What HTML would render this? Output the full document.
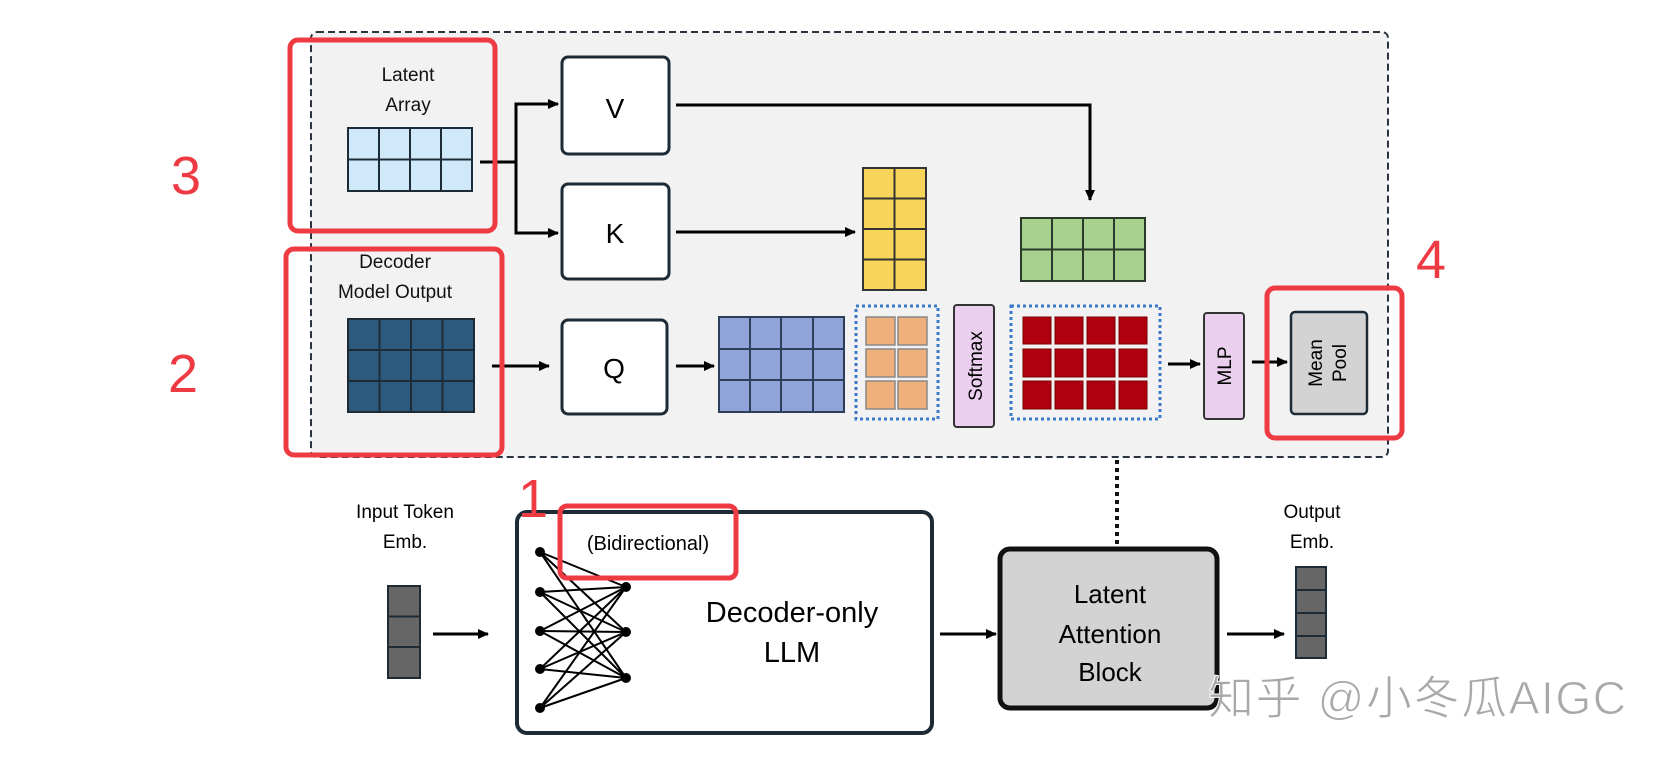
<!DOCTYPE html>
<html><head><meta charset="utf-8"><style>
html,body{margin:0;padding:0;background:#fff;}
svg{display:block;font-family:"Liberation Sans","Noto Sans CJK SC",sans-serif;}
</style></head><body>
<svg width="1668" height="766" viewBox="0 0 1668 766" xmlns="http://www.w3.org/2000/svg">
<defs>
<marker id="ah" markerWidth="12" markerHeight="12" refX="10" refY="6" orient="auto" markerUnits="userSpaceOnUse"><path d="M0,1 L11,6 L0,11 z" fill="#000"/></marker>
</defs>
<rect x="311" y="32" width="1077" height="425" rx="6" fill="#f2f2f2" stroke="#2a3440" stroke-width="2" stroke-dasharray="7,4"/>

<text x="408" y="81" font-size="19" text-anchor="middle" fill="#111">Latent</text>
<text x="408" y="111" font-size="19" text-anchor="middle" fill="#111">Array</text>
<rect x="348" y="128" width="124" height="63" stroke="#1d2b36" stroke-width="2" fill="#cfe9fb"/>
<g stroke="#1d2b36" stroke-width="2">
<line x1="379" y1="128" x2="379" y2="191"/><line x1="410" y1="128" x2="410" y2="191"/><line x1="441" y1="128" x2="441" y2="191"/>
<line x1="348" y1="159.5" x2="472" y2="159.5"/>
</g>
<g stroke="#000" stroke-width="3" fill="none">
<line x1="480" y1="162" x2="516" y2="162"/>
<polyline points="516,233 516,104 558,104" marker-end="url(#ah)"/>
<polyline points="516,162 516,233 558,233" marker-end="url(#ah)"/>
</g>

<g fill="#fff" stroke="#1d2b36" stroke-width="3">
<rect x="562" y="57" width="107" height="97" rx="6"/>
<rect x="562" y="184" width="107" height="95" rx="6"/>
<rect x="562" y="320" width="105" height="94" rx="6"/>
</g>
<text x="615" y="118" font-size="28" text-anchor="middle">V</text>
<text x="615" y="243" font-size="28" text-anchor="middle">K</text>
<text x="614" y="378" font-size="28" text-anchor="middle">Q</text>

<g stroke="#000" stroke-width="3" fill="none">
<polyline points="676,105 1090,105 1090,200" marker-end="url(#ah)"/>
<line x1="676" y1="232" x2="855" y2="232" marker-end="url(#ah)"/>
<line x1="492" y1="366" x2="549" y2="366" marker-end="url(#ah)"/>
<line x1="676" y1="366" x2="714" y2="366" marker-end="url(#ah)"/>
<line x1="1168" y1="364" x2="1200" y2="364" marker-end="url(#ah)"/>
<line x1="1252" y1="362" x2="1287" y2="362" marker-end="url(#ah)"/>
</g>

<text x="395" y="268" font-size="19" text-anchor="middle" fill="#111">Decoder</text>
<text x="395" y="298" font-size="19" text-anchor="middle" fill="#111">Model Output</text>
<rect x="348" y="319" width="126" height="93" fill="#2c5a7e" stroke="#1d2b36" stroke-width="2"/>
<g stroke="#1d2b36" stroke-width="2">
<line x1="379.5" y1="319" x2="379.5" y2="412"/><line x1="411" y1="319" x2="411" y2="412"/><line x1="442.5" y1="319" x2="442.5" y2="412"/>
<line x1="348" y1="350" x2="474" y2="350"/><line x1="348" y1="381" x2="474" y2="381"/>
</g>

<rect x="719" y="317" width="125" height="95" fill="#8fa4d9" stroke="#2c3e5a" stroke-width="2"/>
<g stroke="#2c3e5a" stroke-width="2">
<line x1="750" y1="317" x2="750" y2="412"/><line x1="781" y1="317" x2="781" y2="412"/><line x1="813" y1="317" x2="813" y2="412"/>
<line x1="719" y1="349" x2="844" y2="349"/><line x1="719" y1="380" x2="844" y2="380"/>
</g>

<rect x="863" y="168" width="63" height="122" fill="#f8d55a" stroke="#333" stroke-width="2"/>
<g stroke="#333" stroke-width="2">
<line x1="894.5" y1="168" x2="894.5" y2="290"/>
<line x1="863" y1="198.5" x2="926" y2="198.5"/><line x1="863" y1="229" x2="926" y2="229"/><line x1="863" y1="259.5" x2="926" y2="259.5"/>
</g>

<rect x="1021" y="218" width="124" height="63" fill="#a9d18e" stroke="#2a3a2a" stroke-width="2"/>
<g stroke="#2a3a2a" stroke-width="2">
<line x1="1052" y1="218" x2="1052" y2="281"/><line x1="1083" y1="218" x2="1083" y2="281"/><line x1="1114" y1="218" x2="1114" y2="281"/>
<line x1="1021" y1="249.5" x2="1145" y2="249.5"/>
</g>

<rect x="856" y="306" width="82" height="113" fill="none" stroke="#3a7ac8" stroke-width="3" stroke-dasharray="3,3"/>
<g fill="#f0b07c" stroke="#888" stroke-width="1.5">
<rect x="866" y="317" width="29" height="28"/><rect x="898" y="317" width="29" height="28"/>
<rect x="866" y="349" width="29" height="28"/><rect x="898" y="349" width="29" height="28"/>
<rect x="866" y="381" width="29" height="28"/><rect x="898" y="381" width="29" height="28"/>
</g>

<rect x="954" y="305" width="40" height="122" rx="3" fill="#ead0ee" stroke="#333" stroke-width="2"/>
<text transform="translate(982,366) rotate(-90)" font-size="19" text-anchor="middle">Softmax</text>

<rect x="1011" y="306" width="149" height="113" fill="none" stroke="#3a7ac8" stroke-width="3" stroke-dasharray="3,3"/>
<g fill="#b00010" stroke="#7a0000" stroke-width="1">
<rect x="1023" y="317" width="28" height="27"/><rect x="1055" y="317" width="28" height="27"/><rect x="1087" y="317" width="28" height="27"/><rect x="1119" y="317" width="28" height="27"/>
<rect x="1023" y="349" width="28" height="28"/><rect x="1055" y="349" width="28" height="28"/><rect x="1087" y="349" width="28" height="28"/><rect x="1119" y="349" width="28" height="28"/>
<rect x="1023" y="381" width="28" height="28"/><rect x="1055" y="381" width="28" height="28"/><rect x="1087" y="381" width="28" height="28"/><rect x="1119" y="381" width="28" height="28"/>
</g>

<rect x="1204" y="313" width="40" height="106" rx="3" fill="#ead0ee" stroke="#333" stroke-width="2"/>
<text transform="translate(1231,366) rotate(-90)" font-size="19" text-anchor="middle">MLP</text>

<rect x="1291" y="312" width="76" height="102" rx="4" fill="#d3d3d3" stroke="#1d2b36" stroke-width="2.5"/>
<text transform="translate(1322,363) rotate(-90)" font-size="19" text-anchor="middle">Mean</text>
<text transform="translate(1346,363) rotate(-90)" font-size="19" text-anchor="middle">Pool</text>

<line x1="1117" y1="460" x2="1117" y2="545" stroke="#111" stroke-width="4" stroke-dasharray="4,4"/>

<text x="405" y="518" font-size="19" text-anchor="middle">Input Token</text>
<text x="405" y="548" font-size="19" text-anchor="middle">Emb.</text>
<rect x="388" y="586" width="32" height="92" fill="#666" stroke="#1d2b36" stroke-width="2"/>
<line x1="388" y1="616.5" x2="420" y2="616.5" stroke="#1d2b36" stroke-width="2"/>
<line x1="388" y1="647" x2="420" y2="647" stroke="#1d2b36" stroke-width="2"/>
<line x1="433" y1="634" x2="488" y2="634" stroke="#000" stroke-width="3" marker-end="url(#ah)"/>

<rect x="517" y="512" width="415" height="221" rx="10" fill="#fff" stroke="#1d2b36" stroke-width="4"/>
<g stroke="#000" stroke-width="2">
<line x1="540" y1="552" x2="626" y2="587"/><line x1="540" y1="552" x2="626" y2="632"/><line x1="540" y1="552" x2="626" y2="678"/>
<line x1="540" y1="592" x2="626" y2="587"/><line x1="540" y1="592" x2="626" y2="632"/><line x1="540" y1="592" x2="626" y2="678"/>
<line x1="540" y1="631" x2="626" y2="587"/><line x1="540" y1="631" x2="626" y2="632"/><line x1="540" y1="631" x2="626" y2="678"/>
<line x1="540" y1="669" x2="626" y2="587"/><line x1="540" y1="669" x2="626" y2="632"/><line x1="540" y1="669" x2="626" y2="678"/>
<line x1="540" y1="708" x2="626" y2="587"/><line x1="540" y1="708" x2="626" y2="632"/><line x1="540" y1="708" x2="626" y2="678"/>
</g>
<g fill="#000">
<circle cx="540" cy="552" r="5"/><circle cx="540" cy="592" r="5"/><circle cx="540" cy="631" r="5"/><circle cx="540" cy="669" r="5"/><circle cx="540" cy="708" r="5"/>
<circle cx="626" cy="587" r="5"/><circle cx="626" cy="632" r="5"/><circle cx="626" cy="678" r="5"/>
</g>
<text x="648" y="550" font-size="20" text-anchor="middle">(Bidirectional)</text>
<text x="792" y="622" font-size="29" text-anchor="middle">Decoder-only</text>
<text x="792" y="662" font-size="29" text-anchor="middle">LLM</text>

<line x1="940" y1="634" x2="996" y2="634" stroke="#000" stroke-width="3" marker-end="url(#ah)"/>

<rect x="1000" y="549" width="217" height="159" rx="10" fill="#d3d3d3" stroke="#111" stroke-width="5"/>
<text x="1110" y="603" font-size="26" text-anchor="middle">Latent</text>
<text x="1110" y="643" font-size="26" text-anchor="middle">Attention</text>
<text x="1110" y="681" font-size="26" text-anchor="middle">Block</text>

<line x1="1227" y1="634" x2="1284" y2="634" stroke="#000" stroke-width="3" marker-end="url(#ah)"/>

<text x="1312" y="518" font-size="19" text-anchor="middle">Output</text>
<text x="1312" y="548" font-size="19" text-anchor="middle">Emb.</text>
<rect x="1296" y="567" width="30" height="91" fill="#666" stroke="#1d2b36" stroke-width="2"/>
<line x1="1296" y1="590" x2="1326" y2="590" stroke="#1d2b36" stroke-width="2"/>
<line x1="1296" y1="613" x2="1326" y2="613" stroke="#1d2b36" stroke-width="2"/>
<line x1="1296" y1="636" x2="1326" y2="636" stroke="#1d2b36" stroke-width="2"/>

<g fill="none" stroke="#ee3b43" stroke-width="5">
<rect x="290" y="40" width="205" height="191" rx="8"/>
<rect x="286" y="249" width="216" height="206" rx="8"/>
<rect x="1267" y="288" width="135" height="150" rx="8"/>
<rect x="560" y="506" width="176" height="72" rx="7"/>
</g>
<g fill="#ee3b43" font-size="54" text-anchor="middle">
<text x="186" y="194">3</text>
<text x="183" y="392">2</text>
<text x="1431" y="278">4</text>
<text x="533" y="517">1</text>
</g>

<text x="1208" y="714" font-size="46" fill="#a8a8a8" stroke="#fff" stroke-width="1" textLength="418">知乎 @小冬瓜AIGC</text>
</svg>
</body></html>
